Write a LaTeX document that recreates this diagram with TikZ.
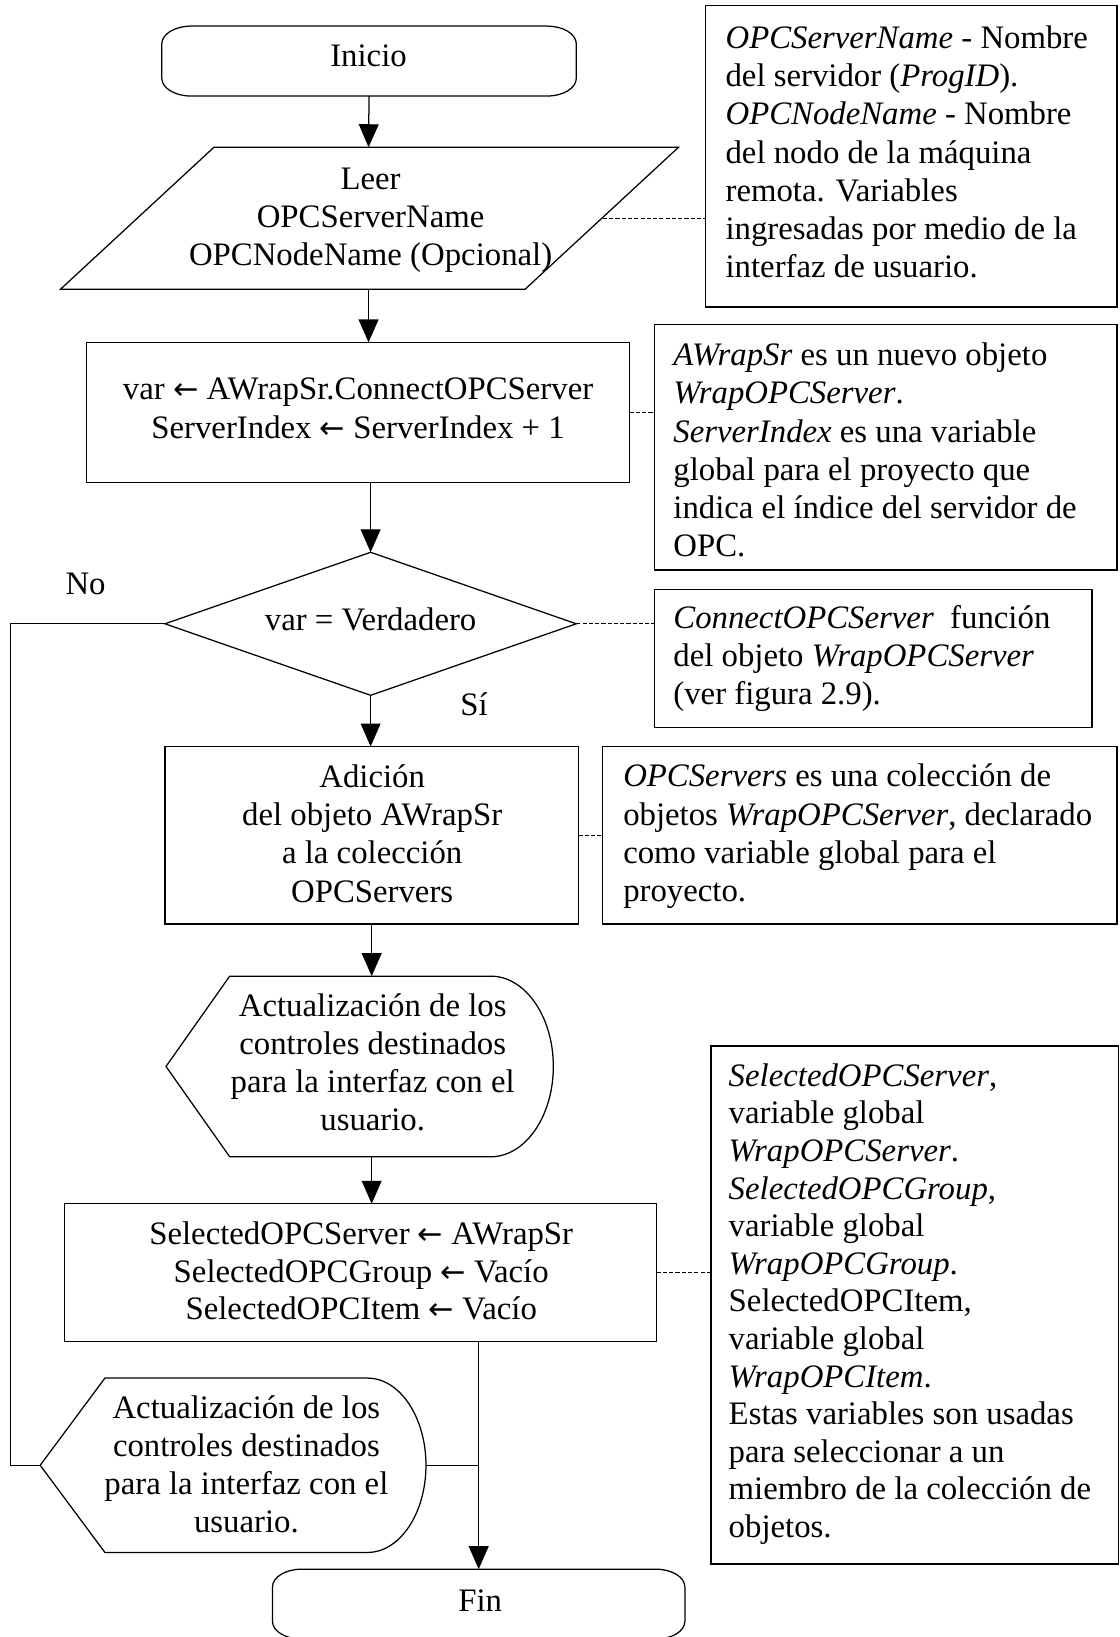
\documentclass[tikz,border=0pt]{standalone}
\usepackage{fontspec}
\setmainfont{Liberation Serif}
\newfontfamily\arrowfont{DejaVu Sans}
\newcommand\getsarrow{{\arrowfont\fontsize{29pt}{29pt}\selectfont ←}}
\usetikzlibrary{arrows.meta,shapes.geometric}

\begin{document}
\begin{tikzpicture}[x=1pt,y=-1pt,
  every node/.style={font=\fontsize{31.4pt}{36.6pt}\selectfont, inner sep=0pt, outer sep=0pt},
  line/.style={line width=1.2pt},
  flow/.style={line width=1.2pt, -{Triangle[length=22pt,width=19pt]}},
  link/.style={line width=1pt, dash pattern=on 4pt off 2pt},
  box/.style={draw, line width=1.2pt, rectangle},
  outline/.style={line width=1.2pt},
  body/.style={align=center},
  tight/.style={font=\fontsize{31.4pt}{36pt}\selectfont},
  notetext/.style={align=left, anchor=west},
]
\useasboundingbox (0,0) rectangle (1072,1568);

% ---------- Inicio ----------
\node[minimum width=397pt, minimum height=67pt] (inicio) at (353.5,58.5) {};
\draw[outline] (183,25) -- (524,25) .. controls (539.5,25) and (552,32.6) .. (552,42)
  -- (552,75) .. controls (552,84.4) and (539.5,92) .. (524,92)
  -- (183,92) .. controls (167.5,92) and (155,84.4) .. (155,75)
  -- (155,42) .. controls (155,32.6) and (167.5,25) .. (183,25) -- cycle;
\node (inicioT) at (353,53) {Inicio};

% ---------- read input ----------
\coordinate (paraN) at (353,141);
\coordinate (paraS) at (353,277);
\coordinate (paraE) at (577.5,209);
\draw[outline] (205,141) -- (650,141) -- (503,277) -- (58,277) -- cycle;
\node[body] (paraT) at (355,211) {Leer\\OPCServerName\\OPCNodeName (Opcional)};

% ---------- connect ----------
\node[box, minimum width=520pt, minimum height=134pt] (proc) at (343,395) {};
\node[body] (procT) at (343,391) {var \getsarrow{} AWrapSr.ConnectOPCServer\\ServerIndex \getsarrow{} ServerIndex + 1};

% ---------- decision ----------
\node[diamond, draw, line width=1.2pt, minimum width=394pt, minimum height=137pt] (dec) at (355,597.5) {};
\node (decT) at (355,593) {var = Verdadero};
\node (no) at (82,559) {No};
\node (si) at (454,675) {Sí};

% ---------- add to collection ----------
\node[box, minimum width=396pt, minimum height=170pt] (add) at (356,800) {};
\node[body] (addT) at (356.5,798.5) {Adición\\del objeto AWrapSr\\a la colección\\OPCServers};

% ---------- first display ----------
\coordinate (d1N) at (356,935);
\coordinate (d1S) at (356,1108);
\draw[outline] (159,1021.5) -- (220,935) -- (470,935)
  .. controls (503.1,935) and (530,973.7) .. (530,1021.5)
  .. controls (530,1069.3) and (503.1,1108) .. (470,1108)
  -- (220,1108) -- cycle;
\node[body] (d1T) at (357,1017.5) {Actualización de los\\controles destinados\\para la interfaz con el\\usuario.};

% ---------- selection ----------
\node[box, minimum width=567pt, minimum height=132pt] (sel) at (345.5,1219) {};
\node[body, tight] (selT) at (346,1217.5) {SelectedOPCServer \getsarrow{} AWrapSr\\SelectedOPCGroup \getsarrow{} Vacío\\SelectedOPCItem \getsarrow{} Vacío};

% ---------- second display ----------
\coordinate (d2L) at (38.5,1403.5);
\coordinate (d2R) at (408,1403.5);
\draw[outline] (38.5,1403.5) -- (100.5,1320) -- (352,1320)
  .. controls (382.9,1320) and (408,1357.4) .. (408,1403.5)
  .. controls (408,1449.6) and (382.9,1487) .. (352,1487)
  -- (100.5,1487) -- cycle;
\node[body] (d2T) at (236,1402.5) {Actualización de los\\controles destinados\\para la interfaz con el\\usuario.};

% ---------- Fin ----------
\coordinate (finN) at (458.5,1503);
\draw[outline] (289,1503) -- (628,1503) .. controls (643.5,1503) and (656,1510.6) .. (656,1520)
  -- (656,1553) .. controls (656,1562.4) and (643.5,1570) .. (628,1570)
  -- (289,1570) .. controls (273.5,1570) and (261,1562.4) .. (261,1553)
  -- (261,1520) .. controls (261,1510.6) and (273.5,1503) .. (289,1503) -- cycle;
\node (finT) at (460,1533) {Fin};

% ---------- notes ----------
\node[box, minimum width=394pt, minimum height=289pt] (n1) at (873,149.5) {};
\node[notetext] (n1T) at (695,145.5) {\textit{OPCServerName} - Nombre\\del servidor (\textit{ProgID}).\\\textit{OPCNodeName} - Nombre\\del nodo de la máquina\\remota. Variables\\ingresadas por medio de la\\interfaz de usuario.};

\node[box, minimum width=443pt, minimum height=235pt] (n2) at (848.5,428.5) {};
\node[notetext] (n2T) at (645,431) {\textit{AWrapSr} es un nuevo objeto\\\textit{WrapOPCServer}.\\\textit{ServerIndex} es una variable\\global para el proyecto que\\indica el índice del servidor de\\OPC.};

\node[box, minimum width=419pt, minimum height=132pt] (n3) at (836.5,631) {};
\node[notetext] (n3T) at (645,631) {\textit{ConnectOPCServer}\ \ función\\del objeto \textit{WrapOPCServer}\\(ver figura 2.9).};

\node[box, minimum width=493pt, minimum height=170pt] (n4) at (823.5,800) {};
\node[notetext] (n4T) at (597,801) {\textit{OPCServers} es una colección de\\objetos \textit{WrapOPCServer}, declarado\\como variable global para el\\proyecto.};

\node[box, minimum width=390.5pt, minimum height=496pt] (n5) at (876.25,1250) {};
\node[notetext, tight] (n5T) at (698,1249) {\textit{SelectedOPCServer},\\variable global\\\textit{WrapOPCServer}.\\\textit{SelectedOPCGroup},\\variable global\\\textit{WrapOPCGroup}.\\SelectedOPCItem,\\variable global\\\textit{WrapOPCItem}.\\Estas variables son usadas\\para seleccionar a un\\miembro de la colección de\\objetos.};

% ---------- flow connectors ----------
\draw[flow] (inicio.south) -- (paraN);
\draw[flow] (paraS) -- (paraS |- proc.north);
\draw[flow] (proc.south -| dec.north) -- (dec.north);
\draw[flow] (dec.south) -- (dec.south |- add.north);
\draw[flow] (add.south) -- (d1N);
\draw[flow] (d1S) -- (d1S |- sel.north);
\draw[flow] (sel.south -| finN) -- (finN);
\draw[line] (d2R) -- (d2R -| finN);
\coordinate (loopX) at (10,597.5);
\draw[line] (dec.west) -- (loopX) |- (d2L);

% ---------- annotation links ----------
\draw[link] (paraE) -- (paraE -| n1.west);
\draw[link] (proc.east) -- (proc.east -| n2.west);
\draw[link] (dec.east) -- (dec.east -| n3.west);
\draw[link] (add.east) -- (add.east -| n4.west);
\draw[link] (sel.east) -- (sel.east -| n5.west);
\end{tikzpicture}
\end{document}
